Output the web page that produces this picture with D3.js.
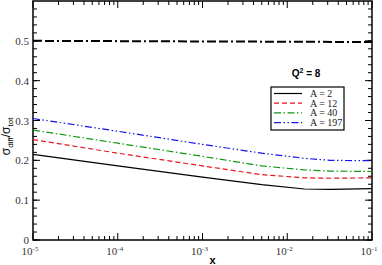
<!DOCTYPE html>
<html>
<head>
<meta charset="utf-8">
<script src="https://cdn.jsdelivr.net/npm/d3@7"></script>
<style>
  body { margin: 0; background: #fff; }
  svg { display: block; }
</style>
</head>
<body>
<div id="chart"></div>
<script>
// data
const xs = [1e-5, 1e-4, 1e-3, 5e-3, 1.6e-2, 3.2e-2, 1e-1];
const a2 = [0.215, 0.186, 0.158, 0.139, 0.128, 0.127, 0.129];
const a12 = [0.252, 0.218, 0.186, 0.164, 0.156, 0.155, 0.156];
const a40 = [0.276, 0.243, 0.210, 0.186, 0.176, 0.173, 0.172];
const a197 = [0.305, 0.273, 0.240, 0.218, 0.205, 0.200, 0.199];
const limitX = [1e-5, 1e-1];
const limitY = [0.5, 0.497];
const xTicks = [1e-5, 1e-4, 1e-3, 1e-2, 1e-1];
const xExp = ["-5", "-4", "-3", "-2", "-1"];
const yTicks = [0, 0.1, 0.2, 0.3, 0.4, 0.5];

const W = 382, H = 265;
const margin = { top: 1, right: 10, bottom: 25, left: 33 };
const width = W - margin.left - margin.right;
const height = H - margin.top - margin.bottom;

const x = d3.scaleLog().domain([1e-5, 1e-1]).range([0, width]);
const y = d3.scaleLinear().domain([0, 0.6]).range([height, 0]);

const svg = d3.select("#chart").append("svg")
  .attr("width", W).attr("height", H)
  .append("g")
  .attr("transform", `translate(${margin.left},${margin.top})`);

// frame
svg.append("rect")
  .attr("width", width).attr("height", height)
  .attr("fill", "none").attr("stroke", "#000").attr("stroke-width", 1.5);

// ticks, inside, all four sides
const minorX = [];
for (let e = -5; e < -1; e++) for (let k = 2; k <= 9; k++) minorX.push(k * Math.pow(10, e));
const minorY = d3.range(0, 0.6, 0.02).map(d => +d.toFixed(2));

const tick = (x1, y1, x2, y2) => svg.append("line")
  .attr("x1", x1).attr("y1", y1).attr("x2", x2).attr("y2", y2)
  .attr("stroke", "#000").attr("stroke-width", 1);

minorX.forEach(d => { tick(x(d), height, x(d), height - 4); tick(x(d), 0, x(d), 4); });
xTicks.forEach(d => { tick(x(d), height, x(d), height - 7); tick(x(d), 0, x(d), 7); });
minorY.forEach(d => { tick(0, y(d), 4, y(d)); tick(width, y(d), width - 4, y(d)); });
yTicks.forEach(d => { tick(0, y(d), 7, y(d)); tick(width, y(d), width - 7, y(d)); });

// tick labels
const serif = "'Liberation Serif', 'DejaVu Serif', serif";
svg.selectAll(".ylab").data(yTicks).join("text")
  .attr("x", -4).attr("y", d => y(d) + 4)
  .attr("text-anchor", "end")
  .style("font-family", serif).style("font-size", "11px").style("fill", "#333")
  .text(d => d === 0 ? "0" : d.toFixed(1));

const xl = svg.selectAll(".xlab").data(xTicks).join("text")
  .attr("x", d => x(d) - 3).attr("y", height + 15)
  .attr("text-anchor", "middle")
  .style("font-family", serif).style("font-size", "11px").style("fill", "#333");
xl.append("tspan").text("10");
xl.append("tspan").attr("dy", -4).style("font-size", "7px").text((d, i) => xExp[i]);

// axis titles
svg.append("text")
  .attr("x", width / 2 + 10).attr("y", height + 24)
  .attr("text-anchor", "middle")
  .style("font-family", "'Liberation Sans', Arial, sans-serif")
  .style("font-size", "11px").style("font-weight", "bold")
  .text("x");

const yt = svg.append("text")
  .attr("transform", `translate(-23,${y(0.26)}) rotate(-90)`)
  .attr("text-anchor", "middle")
  .style("font-family", "'Liberation Sans', Arial, sans-serif")
  .style("font-size", "12px");
yt.append("tspan").text("σ");
yt.append("tspan").attr("dy", 3).style("font-size", "8px").text("diff");
yt.append("tspan").attr("dy", -3).text("/σ");
yt.append("tspan").attr("dy", 3).style("font-size", "8px").text("tot");

// curves
const line = d3.line().x(d => x(d[0])).y(d => y(d[1]));
const series = [
  { name: "A = 2", vals: a2, color: "#000", dash: null },
  { name: "A = 12", vals: a12, color: "#e8141e", dash: "5,3" },
  { name: "A = 40", vals: a40, color: "#119611", dash: "7,2.5,1.5,2.5" },
  { name: "A = 197", vals: a197, color: "#1515e8", dash: "7,2.5,1.5,2.5,1.5,2.5" }
];
series.forEach(s => {
  svg.append("path")
    .datum(xs.map((d, i) => [d, s.vals[i]]))
    .attr("fill", "none").attr("stroke", s.color).attr("stroke-width", 1.2)
    .attr("stroke-dasharray", s.dash)
    .attr("d", line);
});

svg.append("path")
  .datum(limitX.map((d, i) => [d, limitY[i]]))
  .attr("fill", "none").attr("stroke", "#000").attr("stroke-width", 2)
  .attr("stroke-dasharray", "9,3,9,3,2,3")
  .attr("d", line);

// Q^2 label
const q = svg.append("text")
  .attr("x", 306 - margin.left).attr("y", 77 - margin.top)
  .attr("text-anchor", "middle")
  .style("font-family", "'Liberation Sans', Arial, sans-serif")
  .style("font-size", "10px").style("font-weight", "bold");
q.append("tspan").text("Q");
q.append("tspan").attr("dy", -4).style("font-size", "7px").text("2");
q.append("tspan").attr("dy", 4).text(" = 8");

// legend
const lg = svg.append("g").attr("transform", `translate(${271 - margin.left},${87 - margin.top})`);
lg.append("rect").attr("width", 73).attr("height", 43)
  .attr("fill", "#fff").attr("stroke", "#000").attr("stroke-width", 1.2);
series.forEach((s, i) => {
  const yy = 6.5 + i * 9.7;
  lg.append("line").attr("x1", 3).attr("x2", 31).attr("y1", yy).attr("y2", yy)
    .attr("stroke", s.color).attr("stroke-width", 1.2).attr("stroke-dasharray", s.dash);
  lg.append("text").attr("x", 39).attr("y", yy + 3.5)
    .style("font-family", serif).style("font-size", "10px").style("fill", "#222")
    .text(s.name);
});
</script>
</body>
</html>
